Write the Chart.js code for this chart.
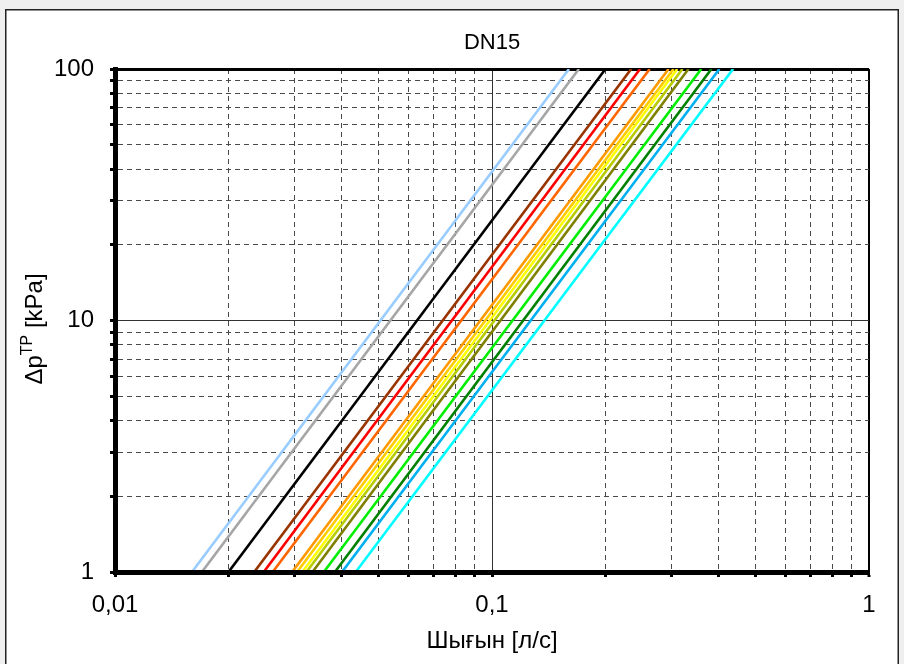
<!DOCTYPE html>
<html>
<head>
<meta charset="utf-8">
<script src="https://cdn.jsdelivr.net/npm/chart.js@4/dist/chart.umd.min.js"></script>
<style>
html,body{margin:0;padding:0;background:#fff;}
#wrap{width:904px;height:664px;position:relative;}
</style>
</head>
<body>
<div id="wrap"><canvas id="c" width="904" height="664"></canvas></div>
<script>
// ---- Data (flow in l/s at 1 kPa and at 100 kPa) ----
const chartTitle = 'DN15';
const xAxisTitle = 'Шығын [л/с]';
const seriesNames = ['s1','s2','s3','s4','s5','s6','s7','s8','s9','s10','s11','s12','s13','s14','s15'];
const flowAt1kPa   = [0.0160, 0.0170, 0.0200, 0.0234, 0.0248, 0.0262, 0.0295, 0.0304, 0.0314, 0.0322, 0.0334, 0.0358, 0.0383, 0.0400, 0.0435];
const flowAt100kPa = [0.160,  0.170,  0.200,  0.234,  0.247,  0.262,  0.294,  0.303,  0.310,  0.320,  0.332,  0.359,  0.382,  0.401,  0.436];
const pressureEnds = [1, 100];
const lineColors = ['#99ccff','#a6a6a6','#000000','#993300','#ff0000','#ff6600','#ff9900','#ffcc00','#ffff00','#b8cc00','#808000','#00ee00','#008000','#00b0f0','#00ffff'];
const xTickValues = [0.01, 0.1, 1];
const xTickLabels = ['0,01', '0,1', '1'];
const yTickValues = [1, 10, 100];
const yTickLabels = ['1', '10', '100'];

const FONT = '"Liberation Sans", Arial, sans-serif';

function isDecade(v){ const l = Math.log10(v); return Math.abs(l - Math.round(l)) < 1e-9; }
function gridValues(minV, maxV){
  const out = [];
  for (let d = Math.round(Math.log10(minV)); d < Math.round(Math.log10(maxV)); d++) {
    const b = Math.pow(10, d);
    for (let m = 1; m <= 9; m++) out.push(parseFloat((m * b).toPrecision(6)));
  }
  out.push(maxV);
  return out;
}
function labelFor(values, labels, v){
  for (let i = 0; i < values.length; i++) if (Math.abs(values[i] - v) / values[i] < 1e-9) return labels[i];
  return '';
}

const datasets = seriesNames.map((n, i) => ({
  label: n,
  data: [{x: flowAt1kPa[i], y: pressureEnds[0]}, {x: flowAt100kPa[i], y: pressureEnds[1]}],
  borderColor: lineColors[i],
  borderWidth: 2.6,
  pointRadius: 0,
  fill: false,
  tension: 0
}));

function gridColor(ctx, maxV){
  if (!ctx.tick) return '#000';
  const v = ctx.tick.value;
  if (Math.abs(v - maxV) / maxV < 1e-9) return '#000';
  if (isDecade(v)) return '#333';
  return '#4a4a4a';
}
function gridWidth(ctx, maxV, edgeW){
  if (!ctx.tick) return 1;
  const v = ctx.tick.value;
  if (Math.abs(v - maxV) / maxV < 1e-9) return edgeW;
  return 1;
}

const decor = {
  id: 'decor',
  beforeDraw(chart){
    const c = chart.ctx;
    c.save();
    c.fillStyle = '#efefef';
    c.fillRect(0, 0, chart.width, chart.height);
    c.fillStyle = '#ffffff';
    c.fillRect(6, 10, 892, 660);
    c.strokeStyle = '#222';
    c.lineWidth = 1.5;
    c.strokeRect(5.75, 9.75, 892.5, 670);
    c.restore();
  },
  afterDraw(chart){
    const c = chart.ctx;
    const a = chart.chartArea;
    const cx = (a.left + a.right) / 2;
    c.save();
    c.fillStyle = '#000';
    c.textAlign = 'center';
    c.textBaseline = 'middle';
    c.font = '22px ' + FONT;
    c.fillText(chartTitle, cx, 43);
    c.font = '24px ' + FONT;
    c.fillText(xAxisTitle, cx, 641);
    // y title with superscript
    c.translate(33, 329);
    c.rotate(-Math.PI / 2);
    const big = '24px ' + FONT, small = '16px ' + FONT;
    c.font = big; const w1 = c.measureText('Δp').width;
    c.font = small; const w2 = c.measureText('TP').width;
    c.font = big; const w3 = c.measureText(' [kPa]').width;
    let x = -(w1 + w2 + w3) / 2;
    c.textAlign = 'left';
    c.textBaseline = 'alphabetic';
    c.font = big; c.fillText('Δp', x, 9); x += w1;
    c.font = small; c.fillText('TP', x, -1); x += w2;
    c.font = big; c.fillText(' [kPa]', x, 9);
    c.restore();
  }
};

new Chart(document.getElementById('c'), {
  type: 'line',
  data: { datasets },
  plugins: [decor],
  options: {
    responsive: false,
    animation: false,
    devicePixelRatio: 1,
    layout: { padding: { top: 69, right: 35, left: 0, bottom: 0 } },
    plugins: { legend: { display: false }, title: { display: false }, tooltip: { enabled: false } },
    scales: {
      x: {
        type: 'logarithmic',
        position: 'bottom',
        min: xTickValues[0],
        max: xTickValues[xTickValues.length - 1],
        afterBuildTicks: s => { s.ticks = gridValues(s.min, s.max).map(v => ({ value: v })); },
        afterFit: s => { s.height = 92; },
        ticks: {
          autoSkip: false, maxRotation: 0, minRotation: 0,
          padding: 14,
          color: '#000',
          font: { size: 24, family: FONT },
          callback: v => labelFor(xTickValues, xTickLabels, v)
        },
        grid: {
          color: ctx => gridColor(ctx, 1),
          lineWidth: ctx => gridWidth(ctx, 1, 2),
          drawTicks: true,
          tickLength: 5,
          tickWidth: 3,
          tickColor: '#000'
        },
        border: {
          display: true, color: '#000', width: 5, z: 1,
          dash: ctx => (ctx.tick && !isDecade(ctx.tick.value)) ? [5, 4] : []
        }
      },
      y: {
        type: 'logarithmic',
        position: 'left',
        min: yTickValues[0],
        max: yTickValues[yTickValues.length - 1],
        afterBuildTicks: s => { s.ticks = gridValues(s.min, s.max).map(v => ({ value: v })); },
        afterFit: s => { s.width = 115; },
        ticks: {
          autoSkip: false,
          padding: 16,
          color: '#000',
          font: { size: 24, family: FONT },
          callback: v => labelFor(yTickValues, yTickLabels, v)
        },
        grid: {
          color: ctx => gridColor(ctx, 100),
          lineWidth: ctx => gridWidth(ctx, 100, 3),
          drawTicks: true,
          tickLength: 5,
          tickWidth: 3,
          tickColor: '#000'
        },
        border: {
          display: true, color: '#000', width: 5, z: 1,
          dash: ctx => (ctx.tick && !isDecade(ctx.tick.value)) ? [5, 4] : []
        }
      }
    }
  }
});
</script>
</body>
</html>
